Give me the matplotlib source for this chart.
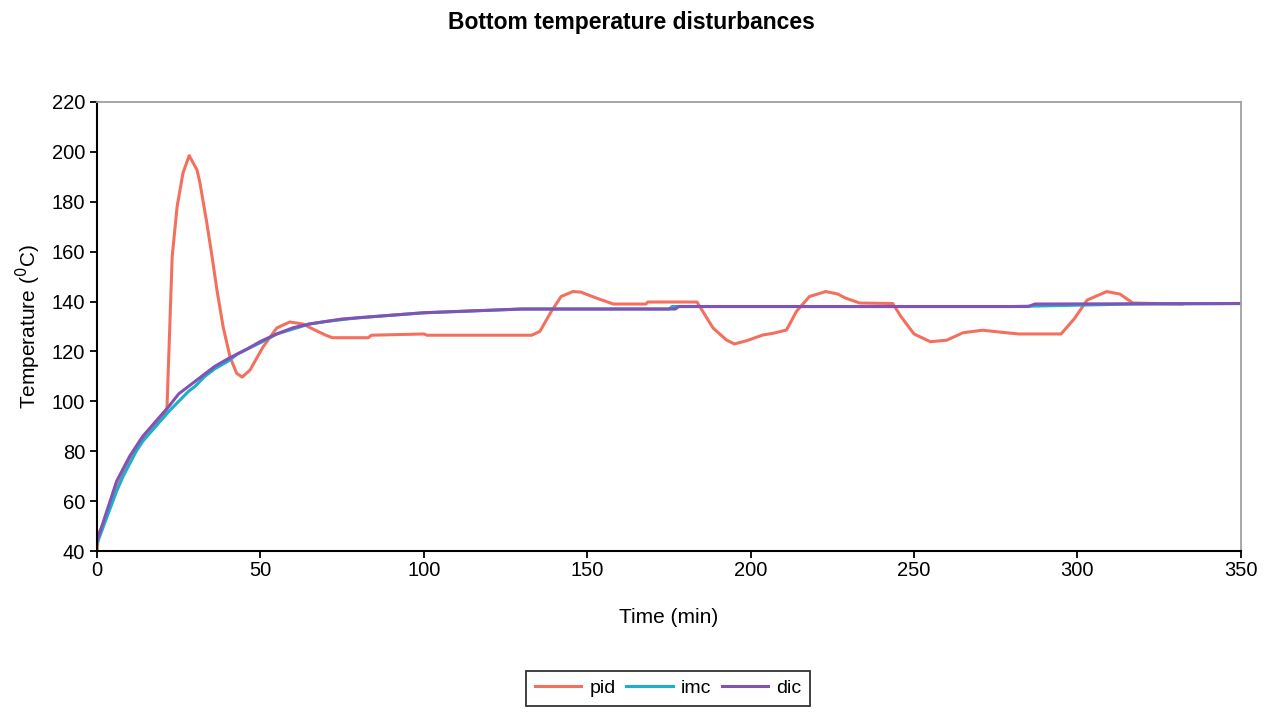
import numpy as np
import matplotlib.pyplot as plt

plt.rcParams['font.family'] = ['Liberation Sans', 'DejaVu Sans']

# ---------------------------------------------------------
# Data
# ---------------------------------------------------------
pid_t = [0, 0.5, 2, 4, 6, 8, 10, 12, 14, 16, 18, 20, 21.4, 23, 24.5, 26.3, 28.2,
         30.6, 31.5, 33.6, 35.2, 36.7, 38.6, 40.7, 42.7, 44.4, 46.8, 50.8, 55, 59,
         63, 66, 70, 72, 83, 84, 100, 101, 133, 135.5, 139, 142, 145.6, 148, 153,
         158, 168, 168.5, 183.6, 188.5, 192.6, 195, 198.8, 203.8, 207, 211, 214,
         218, 223, 226.7, 229, 233.4, 243.5, 246, 250, 255, 260, 265, 271, 276,
         282, 295, 299, 303, 309, 313, 317, 332]
pid_T = [40, 47, 51, 58, 65, 71, 76, 81, 85, 88, 91, 94, 97, 158, 178, 191.5, 198.5,
         192.7, 187.5, 171.5, 158, 144.6, 129.8, 117.8, 111.3, 109.7, 112.5, 121.8,
         129.4, 131.8, 131, 129, 126.5, 125.5, 125.5, 126.5, 127, 126.5, 126.5, 128,
         136, 142, 144, 143.8, 141.3, 139, 139, 139.8, 139.8, 129.4, 124.6, 123,
         124.3, 126.6, 127.3, 128.6, 136, 142, 144, 143, 141.4, 139.4, 139.2, 134,
         127, 123.9, 124.5, 127.5, 128.5, 127.8, 127, 127, 133, 140.6, 144, 143,
         139.4, 139]

imc_t = [0, 2, 4, 6, 8, 10, 12, 14, 16, 18, 20, 22, 25, 28, 30, 33, 36, 40, 43, 46,
         50, 55, 60, 65, 70, 80, 90, 100, 110, 120, 130, 175, 176, 280, 317, 350]
imc_T = [43, 50, 57, 64, 70, 75, 80, 84, 87, 90, 93, 96, 100, 104, 106, 110, 113,
         116, 119, 121, 123.5, 127, 129, 131, 132, 133.5, 134.5, 135.5, 136, 136.5,
         137, 137, 138, 138, 139, 139.2]

dic_t = [0, 2, 4, 6, 8, 10, 12, 14, 16, 18, 20, 22, 25, 28, 30, 33, 36, 40, 43, 46,
         50, 55, 60, 65, 70, 75, 80, 85, 90, 95, 100, 110, 120, 130, 177, 178, 285,
         287, 350]
dic_T = [44, 52, 60, 68, 73, 78, 82, 86, 89, 92, 95, 98, 103, 106, 108, 111, 114,
         117, 119, 121, 124, 127, 129.5, 131, 132, 133, 133.5, 134, 134.5, 135,
         135.5, 136, 136.5, 137, 137, 138, 138, 139, 139.2]

x_ticks = np.arange(0, 351, 50)
y_ticks = np.arange(40, 221, 20)


def main():
    fig = plt.figure(figsize=(12.7, 7.13), dpi=100)
    ax = fig.add_axes([0.0764, 0.2272, 0.9006, 0.6298])

    ax.plot(pid_t, pid_T, color="#F4705E", lw=2.2, label="pid")
    ax.plot(imc_t, imc_T, color="#1BAFCF", lw=2.2, label="imc")
    ax.plot(dic_t, dic_T, color="#8452B4", lw=2.2, label="dic")

    ax.set_xlim(0, 350)
    ax.set_ylim(40, 220)
    ax.set_xticks(x_ticks)
    ax.set_yticks(y_ticks)
    ax.tick_params(labelsize=14.5, length=5, width=1.3, direction="out")
    ax.tick_params(axis="x", pad=2)

    for side in ("top", "right"):
        ax.spines[side].set_color("#A0A0A0")
        ax.spines[side].set_linewidth(1.3)
    for side in ("left", "bottom"):
        ax.spines[side].set_linewidth(1.5)

    ax.set_xlabel("Time (min)", fontsize=15, labelpad=20)
    ax.set_ylabel("Temperature ($^0$C)", fontsize=15, labelpad=6)

    fig.text(0.497, 0.968, "Bottom temperature disturbances",
             ha="center", va="center", fontsize=16.5, fontweight="bold")

    leg = fig.legend(loc="upper center", bbox_to_anchor=(0.526, 0.059), ncol=3,
                     fontsize=14, frameon=True, fancybox=False, handlelength=2.4,
                     columnspacing=0.55, handletextpad=0.4, borderpad=0.45,
                     borderaxespad=0)
    leg.get_frame().set_edgecolor("black")
    leg.get_frame().set_linewidth(1.3)

    fig.savefig("out.png", dpi=100)


if __name__ == "__main__":
    main()
